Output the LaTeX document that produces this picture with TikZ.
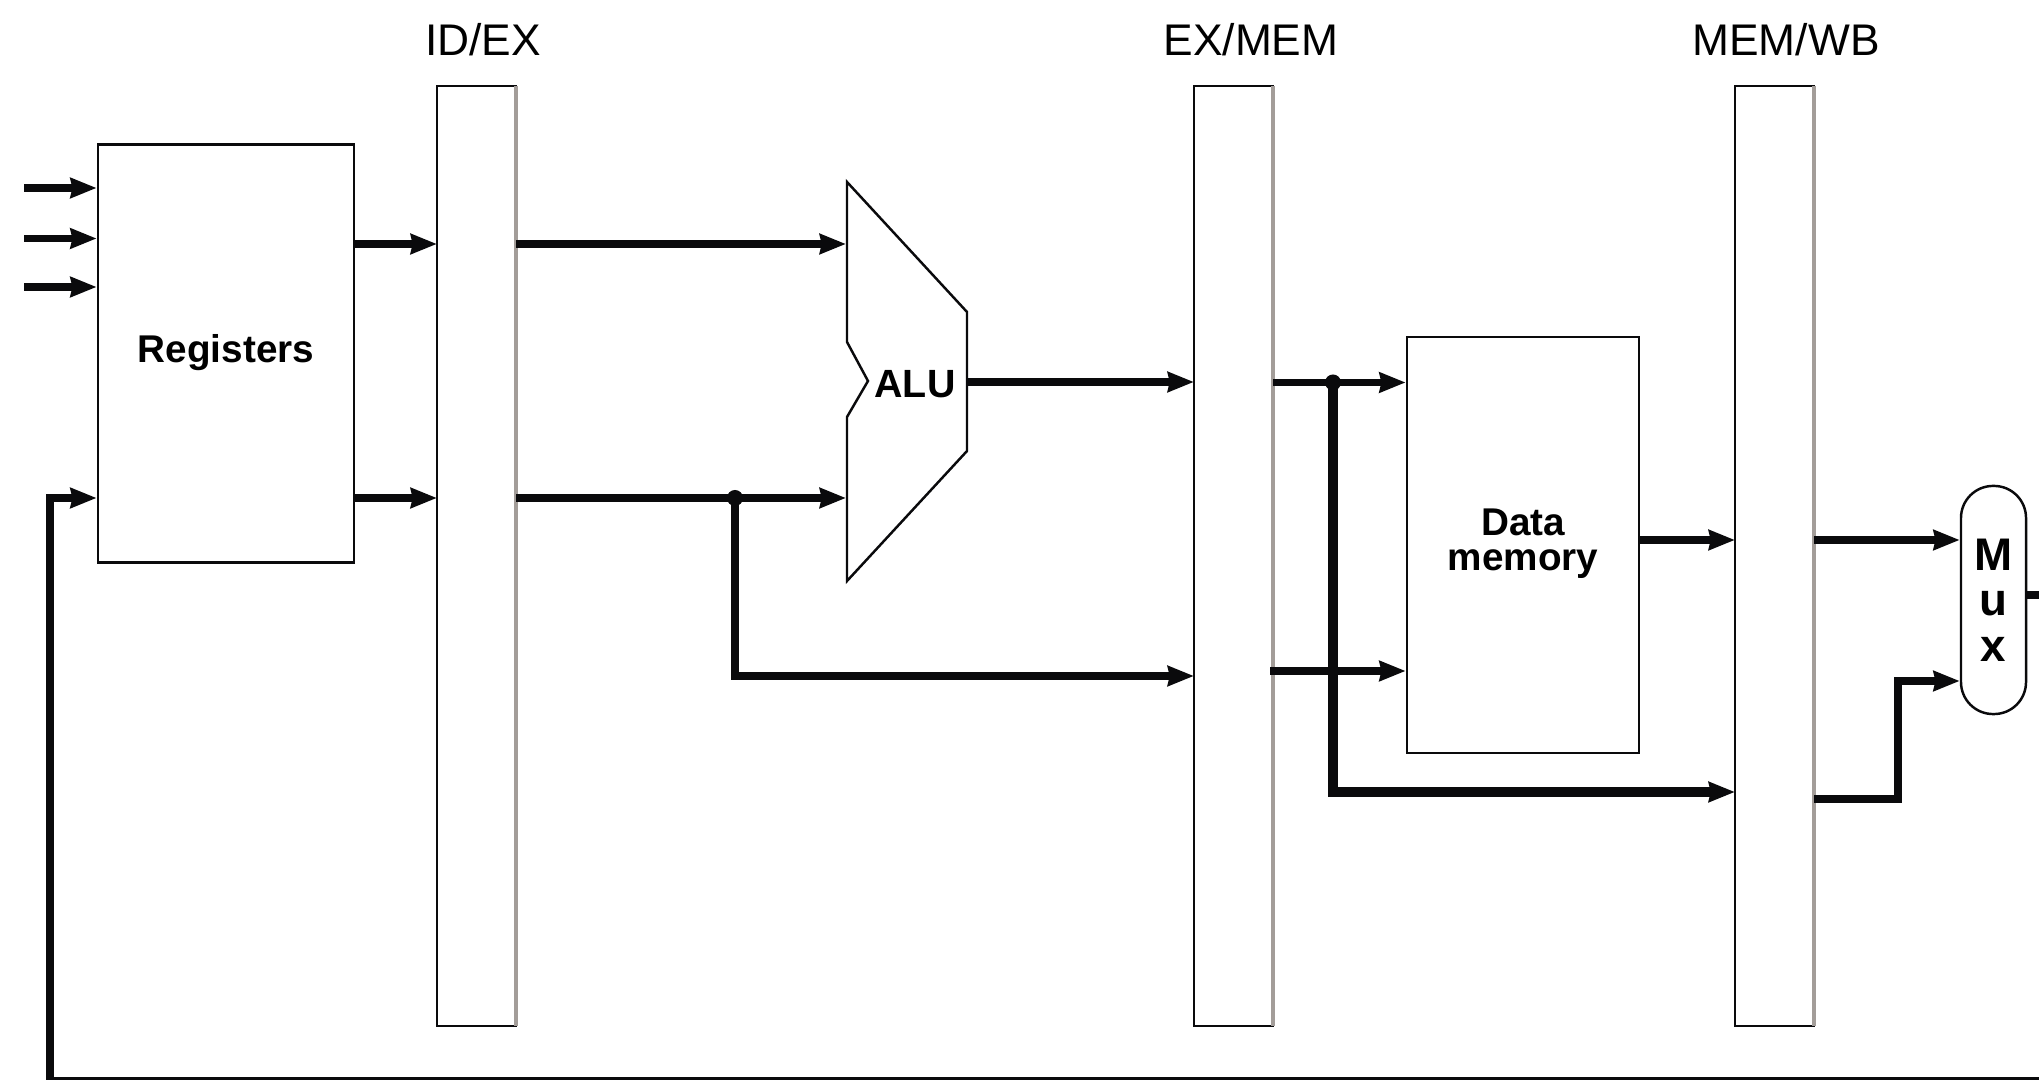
\documentclass[tikz,border=0pt]{standalone}
\usepackage{fontspec}
\setmainfont{Liberation Sans}
\usepackage{tikz}
\usetikzlibrary{positioning,arrows.meta,calc}
\usepackage{xcolor}
\definecolor{barshade}{HTML}{A39D99}
\definecolor{inkline}{HTML}{0A0A0C}

\begin{document}
\begin{tikzpicture}[x=0.01cm,y=-0.01cm,
        box/.style={draw=inkline, line width=0.7pt, inner sep=0pt},
        boxlabel/.style={font=\fontsize{11}{10}\selectfont\bfseries, align=center, inner sep=0pt},
        pipebar/.style={draw=inkline, line width=0.7pt, inner sep=0pt, outer sep=0pt, minimum width=0.79cm, minimum height=9.39cm},
        title/.style={font=\fontsize{12.6}{14}\selectfont, inner sep=0pt},
        bus/.style={line width=2.2pt, color=inkline, -{Stealth[length=7.4pt,width=5.6pt,inset=0.5pt]}},
        buswide/.style={bus, line width=2.7pt},
        junction/.style={circle, fill=inkline, inner sep=0pt, minimum size=0.16cm}]
        \useasboundingbox (0,0) rectangle (2039,1080);

        % Levels of the wires
        \coordinate (upper) at (0,244);
        \coordinate (lower) at (0,498);
        \coordinate (mid) at (0,382.5);
        \coordinate (dataout) at (0,540);

        % Pipeline bars
        \node[pipebar] (idex) at (476.5,556) {};
        \node[pipebar] (exmem) at (1233.5,556) {};
        \node[pipebar] (memwb) at (1774.5,556) {};
        \draw[barshade, line width=1.1pt] (idex.north east) -- (idex.south east);
        \draw[barshade, line width=1.1pt] (exmem.north east) -- (exmem.south east);
        \draw[barshade, line width=1.1pt] (memwb.north east) -- (memwb.south east);
        \node[title] (idextitle) at (483,40) {ID/EX};
        \node[title] (exmemtitle) at (1251,40) {EX/MEM};
        \node[title] (memwbtitle) at (1786,40) {MEM/WB};

        % Registers
        \node[box, minimum width=2.56cm, minimum height=4.18cm] (regs) at (226,353.5) {};
        \node[boxlabel] (regslabel) at (226,353) {Registers};
        \coordinate (in1) at (24,188);
        \coordinate (in2) at (24,238.5);
        \coordinate (in3) at (24,287);
        \draw[bus] (in1) -- (regs.west |- in1);
        \draw[bus] (in2) -- (regs.west |- in2);
        \draw[bus] (in3) -- (regs.west |- in3);
        \draw[bus] (regs.east |- upper) -- (idex.west |- upper);
        \draw[bus] (regs.east |- lower) -- (idex.west |- lower);

        % ALU
        \draw[draw=inkline, line width=0.7pt] (847,182) -- (967,312) -- (967,451) -- (847,581)
            -- (847,417) -- (868,381) -- (847,342) -- cycle;
        \node[boxlabel, font=\fontsize{11.2}{12}\selectfont\bfseries] (alulabel) at (915,384) {ALU};
        \coordinate (aluin1) at (846,244);
        \coordinate (aluin2) at (846,498);
        \coordinate (aluout) at (968,382);
        \node[junction] (regdot) at (735,498) {};
        \draw[bus] (idex.east |- upper) -- (aluin1);
        \draw[bus] (idex.east |- lower) -- (aluin2);
        \draw[bus] (aluout) -- (exmem.west |- aluout);
        \coordinate (storeline) at (0,676);
        \draw[bus] (regdot.center) |- (exmem.west |- storeline);

        % Data memory
        \node[box, minimum width=2.32cm, minimum height=4.16cm] (dmem) at (1523,545) {};
        \node[boxlabel] (dmemlabel) at (1523,544) {Data\\memory};
        \node[junction] (aludot) at (1333,382.5) {};
        \coordinate (storein) at (1270,671);
        \coordinate (bypass) at (0,792);
        \draw[bus] (exmem.east |- mid) -- (dmem.west |- mid);
        \draw[bus] (storein) -- (dmem.west |- storein);
        \draw[buswide] (aludot.center) |- (memwb.west |- bypass);
        \draw[bus] (dmem.east |- dataout) -- (memwb.west |- dataout);

        % Mux and write back
        \node[draw=inkline, line width=0.7pt, rounded corners=0.32cm, inner sep=0pt, minimum width=0.65cm, minimum height=2.28cm,
            font=\fontsize{13}{12.9}\selectfont\bfseries, align=center] (mux) at (1993.5,600) {M\\u\\x};
        \coordinate (muxin) at (0,681);
        \coordinate (muxout) at (0,595);
        \coordinate (wbbend) at (1898,799);
        \coordinate (corner) at (2046,1080.5);
        \coordinate (back) at (50,1080.5);
        \draw[bus] (memwb.east |- dataout) -- (mux.west |- dataout);
        \draw[bus] (memwb.east |- wbbend) -- (wbbend) |- (mux.west |- muxin);
        \draw[bus] (mux.east |- muxout) -- (corner |- muxout) -- (corner) -- (back) |- (regs.west |- lower);
\end{tikzpicture}
\end{document}
